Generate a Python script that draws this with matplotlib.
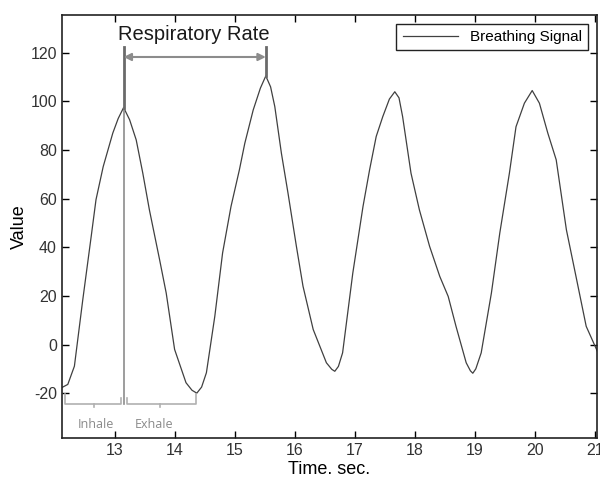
import matplotlib
matplotlib.use("Agg")
import matplotlib.pyplot as plt

plt.rcParams['font.family'] = ['Liberation Sans', 'DejaVu Sans']
plt.rcParams['axes.unicode_minus'] = False

# traced breathing signal (time in s, value)
time_s = [12.12, 12.22, 12.33, 12.47, 12.61, 12.69, 12.81, 12.97, 13.06, 13.15,
          13.25, 13.36, 13.47, 13.58, 13.75, 13.86, 14.00, 14.19, 14.29, 14.37,
          14.45, 14.53, 14.67, 14.80, 14.94, 15.08, 15.17, 15.31, 15.43, 15.52,
          15.60, 15.67, 15.78, 15.89, 16.03, 16.14, 16.31, 16.53, 16.62, 16.67,
          16.73, 16.80, 16.97, 17.14, 17.25, 17.36, 17.47, 17.58, 17.67, 17.74,
          17.80, 17.94, 18.08, 18.25, 18.42, 18.56, 18.69, 18.86, 18.93, 18.97,
          19.02, 19.11, 19.28, 19.42, 19.58, 19.69, 19.83, 19.96, 20.08, 20.22,
          20.36, 20.53, 20.69, 20.86, 21.05]
signal = [-17.7, -16.4, -8.9, 18.5, 44.5, 59.6, 73.2, 87.0, 93.0, 97.5,
          92.5, 84.2, 70.5, 55.4, 34.9, 21.2, -2.0, -15.7, -18.8, -20.0,
          -17.5, -11.6, 11.6, 37.7, 56.8, 71.9, 82.8, 96.5, 105.5, 110.5,
          106.0, 97.9, 78.7, 62.3, 40.4, 24.0, 6.2, -7.5, -10.2, -11.0,
          -9.0, -3.4, 29.4, 56.8, 71.9, 85.6, 93.8, 101.0, 104.0, 101.5,
          93.8, 70.5, 55.4, 40.4, 28.0, 19.8, 7.5, -7.5, -10.8, -11.8,
          -10.0, -3.4, 21.2, 45.9, 70.5, 89.6, 99.3, 104.5, 99.3, 87.0,
          76.0, 47.2, 28.0, 7.5, -3.0]

x_ticks = [13, 14, 15, 16, 17, 18, 19, 20, 21]
y_ticks = [-20, 0, 20, 40, 60, 80, 100, 120]

# annotation anchors
peak1_t, peak1_v = 13.15, 97.5
peak2_t, peak2_v = 15.52, 110.5
inhale_start, exhale_end = 12.17, 14.36

fig = plt.figure(figsize=(6, 4.82), dpi=100)
ax = fig.add_axes([0.103, 0.091, 0.892, 0.878])

ax.plot(time_s, signal, color='#404040', lw=0.9, label='Breathing Signal')

# respiratory rate markers
gray = '#8c8c8c'
ax.plot([peak1_t, peak1_t], [-24.3, peak1_v], color=gray, lw=1.2)
ax.plot([peak1_t, peak1_t], [peak1_v, 122.5], color='#6a6a6a', lw=2)
ax.plot([peak2_t, peak2_t], [peak2_v, 122.5], color='#6a6a6a', lw=2)
ax.annotate('', xy=(peak2_t, 118.3), xytext=(peak1_t, 118.3),
            arrowprops=dict(arrowstyle='<|-|>', color=gray, lw=1.5,
                            shrinkA=0, shrinkB=0, mutation_scale=11))
ax.text((peak1_t + peak2_t) / 2 - 0.02, 123.5, 'Respiratory Rate', ha='center',
        va='bottom', fontsize=14.5, color='#1a1a1a')

# inhale / exhale brackets
br = '#b0b0b0'
ax.plot([inhale_start, inhale_start, peak1_t - 0.05, peak1_t - 0.05],
        [-20.5, -24.3, -24.3, -22.0], color=br, lw=1.2)
ax.plot([peak1_t + 0.05, peak1_t + 0.05, exhale_end, exhale_end],
        [-22.0, -24.3, -24.3, -20.5], color=br, lw=1.2)
mid_in = (inhale_start + peak1_t) / 2
mid_ex = (peak1_t + exhale_end) / 2
ax.plot([mid_in, mid_in], [-24.3, -25.5], color=br, lw=1.2)
ax.plot([mid_ex, mid_ex], [-24.3, -25.5], color=br, lw=1.2)
ax.text(mid_in + 0.03, -32.8, 'Inhale', ha='center', va='center', fontsize=9,
        color='#8a8a8a', family=['Open Sans', 'DejaVu Sans'])
ax.text(mid_ex - 0.1, -32.8, 'Exhale', ha='center', va='center', fontsize=9,
        color='#8a8a8a', family=['Open Sans', 'DejaVu Sans'])

ax.set_xlim(12.12, 21.04)
ax.set_ylim(-38.5, 135.6)
ax.set_xticks(x_ticks)
ax.set_yticks(y_ticks)
ax.tick_params(direction='in', top=True, right=True, length=5, width=1,
               labelsize=11.5, labelcolor='#333333')
for s in ax.spines.values():
    s.set_linewidth(1.2)
    s.set_color('#222222')

ax.set_xlabel('Time. sec.', fontsize=13, labelpad=2)
ax.set_ylabel('Value', fontsize=13, labelpad=2)

leg = ax.legend(loc='upper right', fontsize=11, fancybox=False,
                edgecolor='#222222', framealpha=1, handlelength=3.6,
                borderaxespad=0.6, borderpad=0.4)
leg.get_frame().set_linewidth(1.0)

fig.savefig('out.png', dpi=100)
